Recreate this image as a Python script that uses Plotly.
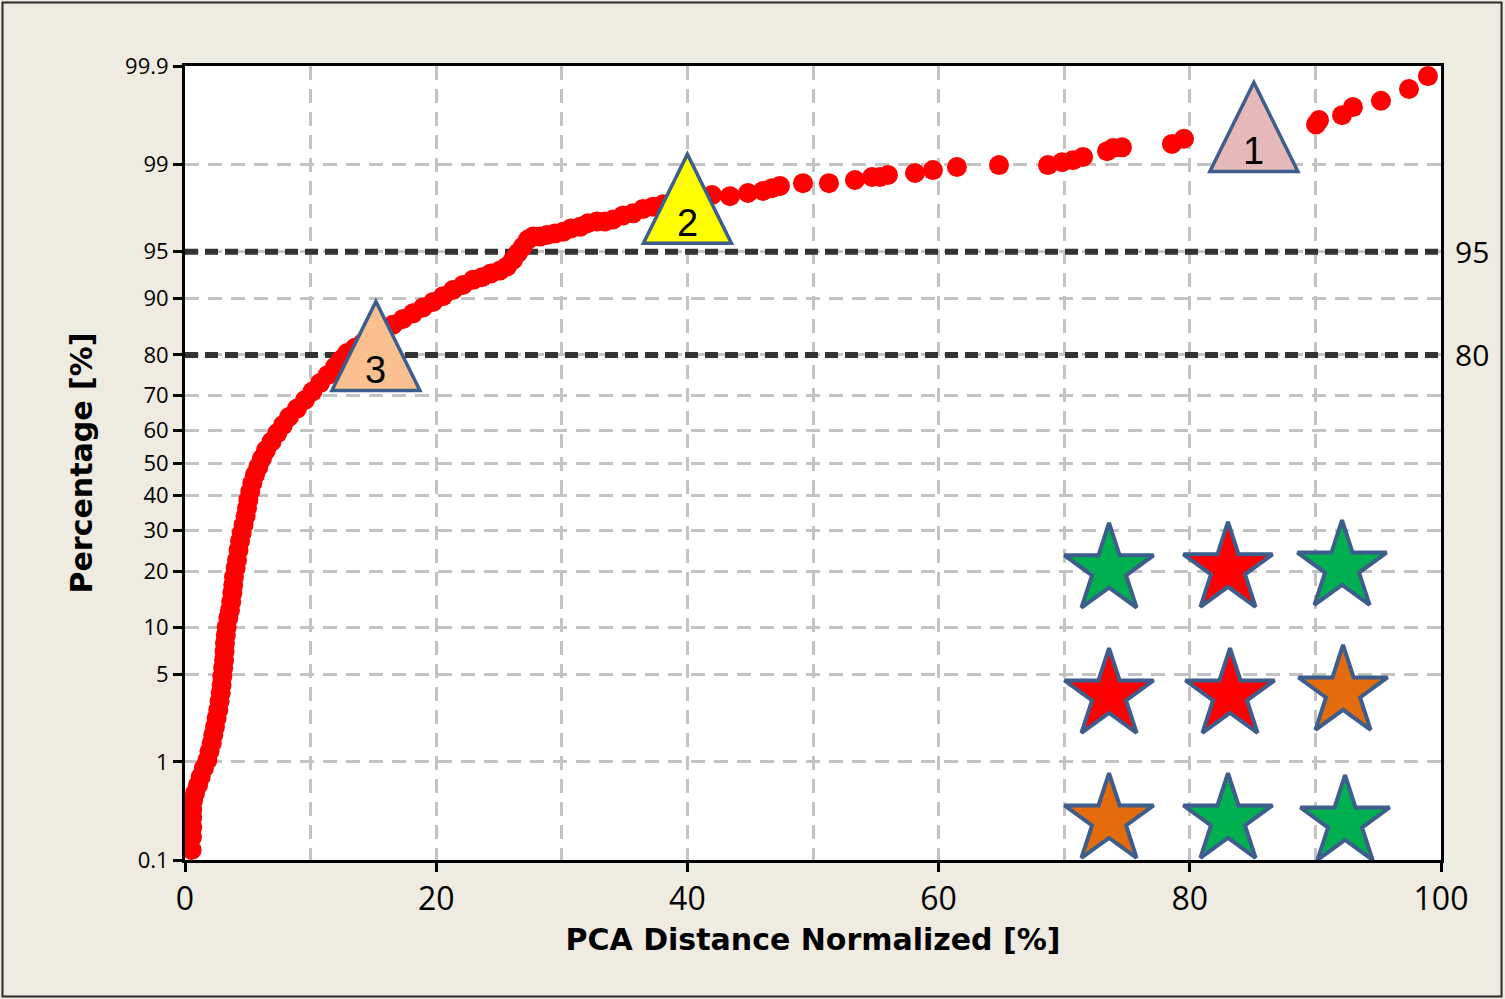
from statistics import NormalDist

import plotly.graph_objects as go

_nd = NormalDist()


def to_score(pct):
    """Normal-probability position of a cumulative percentage."""
    return _nd.inv_cdf(pct / 100.0)


# Normalized PCA distance [%] of each sample and its cumulative percentage
distance = [
    0.53, 0.56, 0.58, 0.58, 0.58, 0.64, 0.80, 1.04, 1.25, 1.51,
    1.78, 1.95, 2.13, 2.25, 2.39, 2.52, 2.65, 2.75, 2.84, 2.91,
    2.97, 3.04, 3.11, 3.15, 3.18, 3.25, 3.32, 3.45, 3.58, 3.68,
    3.77, 3.84, 3.90, 4.03, 4.14, 4.26, 4.38, 4.51, 4.66, 4.82,
    4.94, 5.04, 5.20, 5.36, 5.57, 5.84, 6.13, 6.45, 6.89, 7.35,
    7.80, 8.28, 8.92, 9.55, 10.15, 10.75, 11.35, 11.94, 12.42, 12.90,
    13.54, 14.17, 14.81, 15.45, 16.00, 16.56, 17.36, 18.15, 18.95, 19.75,
    20.54, 21.34, 22.13, 22.93, 23.65, 24.36, 25.08, 25.64, 26.11, 26.51,
    26.91, 27.31, 27.71, 28.26, 28.82, 29.46, 30.10, 30.73, 31.45, 32.09,
    32.80, 33.44, 34.08, 34.87, 35.67, 36.46, 37.26, 38.06, 39.01, 40.21,
    41.96, 43.39, 44.82, 46.02, 46.74, 47.37, 49.20, 51.27, 53.34, 54.70,
    55.33, 55.97, 58.12, 59.55, 61.46, 64.81, 68.71, 69.82, 70.70, 71.50,
    73.41, 73.89, 74.60, 78.58, 79.54, 90.05, 90.29, 92.12, 92.99, 95.22,
    97.45, 98.96,
]
percentage = [
    0.13, 0.18, 0.23, 0.29, 0.35, 0.43, 0.51, 0.61, 0.73, 0.88,
    1.04, 1.24, 1.46, 1.71, 2.00, 2.36, 2.73, 3.17, 3.67, 4.20,
    4.82, 5.54, 6.26, 7.12, 8.06, 9.03, 10.1, 11.4, 12.6, 14.0,
    15.6, 17.1, 18.8, 20.7, 22.5, 24.9, 27.2, 29.3, 31.5, 33.9,
    36.3, 38.7, 41.2, 43.8, 46.3, 48.8, 51.4, 54.0, 56.6, 59.2,
    61.6, 64.0, 66.4, 68.8, 71.1, 73.3, 75.3, 77.3, 78.9, 80.4,
    81.5, 82.5, 83.5, 84.4, 85.2, 85.9, 86.9, 87.8, 88.7, 89.5,
    90.3, 91.1, 91.7, 92.3, 92.6, 93.0, 93.3, 93.7, 94.3, 94.9,
    95.4, 95.9, 96.1, 96.1, 96.2, 96.3, 96.4, 96.6, 96.7, 96.9,
    97.0, 97.0, 97.1, 97.3, 97.4, 97.6, 97.7, 97.8, 97.9, 98.0,
    98.15, 98.11, 98.22, 98.29, 98.38, 98.45, 98.53, 98.53, 98.62, 98.70,
    98.70, 98.75, 98.80, 98.87, 98.94, 98.98, 98.98, 99.04, 99.08, 99.14,
    99.24, 99.29, 99.30, 99.35, 99.42, 99.58, 99.62, 99.66, 99.72, 99.76,
    99.82, 99.87,
]

# Probability-scale ticks
tick_pct = [0.1, 1, 5, 10, 20, 30, 40, 50, 60, 70, 80, 90, 95, 99, 99.9]
tick_text = ["0.1", "1", "5", "10", "20", "30", "40", "50", "60", "70",
             "80", "90", "95", "99", "99.9"]
x_ticks = [0, 20, 40, 60, 80, 100]
x_span = [0, 100]

# Reference levels drawn as heavy dashed lines
ref_levels = [95, 80]
ref_text = ["95", "80"]

# Numbered triangle markers
tri_labels = ["1", "2", "3"]
tri_x = [85.1, 40.0, 15.2]
tri_pct = [99.55, 98.0, 81.8]
tri_fill = ["#e6b9b8", "#ffff00", "#fac090"]

# Star grid
star_x = [73.57, 83.04, 92.12, 73.57, 83.20, 92.20, 73.57, 83.04, 92.36]
star_pct = [20.3, 20.5, 20.9, 3.55, 3.55, 3.74, 0.273, 0.273, 0.26]
star_fill = ["#00b050", "#ff0000", "#00b050",
             "#ff0000", "#ff0000", "#e46c0a",
             "#e46c0a", "#00b050", "#00b050"]

OUTLINE = "#3d5d8c"
GRID = "#c3c3c3"
BEIGE = "#efebe1"
FONT = "Open Sans"
TITLE_FONT = "DejaVu Sans"

fig = go.Figure()

annotations = []
shapes = []

# Heavy dashed reference levels (under the data points)
for lvl, txt in zip(ref_levels, ref_text):
    fig.add_trace(go.Scatter(
        x=x_span,
        y=[to_score(lvl)] * len(x_span),
        mode="lines",
        line=dict(color="#333333", width=6, dash="13px,7px"),
        showlegend=False,
        hoverinfo="skip",
    ))
    annotations.append(dict(
        x=1, xref="paper", y=to_score(lvl), yref="y", text=txt,
        showarrow=False, xanchor="left", xshift=12,
        font=dict(family=FONT, size=30, color="#000000"),
    ))

fig.add_trace(go.Scatter(
    x=distance,
    y=[to_score(p) for p in percentage],
    mode="markers",
    marker=dict(color="#ff0000", size=20, line=dict(width=0)),
    showlegend=False,
    hoverinfo="skip",
))

fig.add_trace(go.Scatter(
    x=star_x,
    y=[to_score(p) for p in star_pct],
    mode="markers",
    marker=dict(symbol="star", size=67, color=star_fill,
                line=dict(color=OUTLINE, width=4)),
    showlegend=False,
    hoverinfo="skip",
))

for lab, tx, tp, col in zip(tri_labels, tri_x, tri_pct, tri_fill):
    shapes.append(dict(
        type="path", xref="x", yref="y",
        xsizemode="pixel", ysizemode="pixel",
        xanchor=tx, yanchor=to_score(tp),
        path="M-44,-44 L44,-44 L0,45 Z",
        fillcolor=col, line=dict(color=OUTLINE, width=3.5),
        layer="above",
    ))
    annotations.append(dict(
        x=tx, y=to_score(tp), xref="x", yref="y", text=lab,
        showarrow=False, yshift=-24,
        font=dict(family="Liberation Sans", size=38, color="#000000"),
    ))

# Outer frame around the whole graphic
shapes.append(dict(
    type="rect", xref="paper", yref="paper",
    x0=-0.1453, x1=1.0482, y0=-0.1719, y1=1.0800,
    line=dict(color="#2b2b2b", width=2), fillcolor="rgba(0,0,0,0)",
    layer="below",
))

fig.update_layout(
    width=1505, height=999,
    margin=dict(l=185, r=64, t=66, b=139, pad=0),
    paper_bgcolor=BEIGE,
    plot_bgcolor="#ffffff",
    shapes=shapes,
    annotations=annotations,
    showlegend=False,
)

fig.update_xaxes(
    range=x_span,
    tickvals=x_ticks,
    ticks="outside", ticklen=9, tickwidth=2.5, tickcolor="#000000",
    tickfont=dict(family=FONT, size=32, color="#000000"),
    showgrid=True, gridcolor=GRID, gridwidth=2.5, griddash="14px,9px",
    minor=dict(dtick=10, showgrid=True, gridcolor=GRID, gridwidth=2.5,
               griddash="14px,9px", ticks=""),
    showline=True, linecolor="#000000", linewidth=3, mirror=True,
    zeroline=False,
    title=dict(text="<b>PCA Distance Normalized [%]</b>", standoff=11,
               font=dict(family=TITLE_FONT, size=30, color="#000000")),
)

fig.update_yaxes(
    range=[to_score(0.1), to_score(99.9)],
    tickvals=[to_score(p) for p in tick_pct],
    ticktext=tick_text,
    ticks="outside", ticklen=9, tickwidth=2.5, tickcolor="#000000",
    tickfont=dict(family=FONT, size=22, color="#000000"),
    showgrid=True, gridcolor=GRID, gridwidth=2.5, griddash="14px,9px",
    showline=True, linecolor="#000000", linewidth=3, mirror=True,
    zeroline=False,
    title=dict(text="<b>Percentage [%]</b>", standoff=24,
               font=dict(family=TITLE_FONT, size=30, color="#000000")),
)

fig.write_html("out.html")
